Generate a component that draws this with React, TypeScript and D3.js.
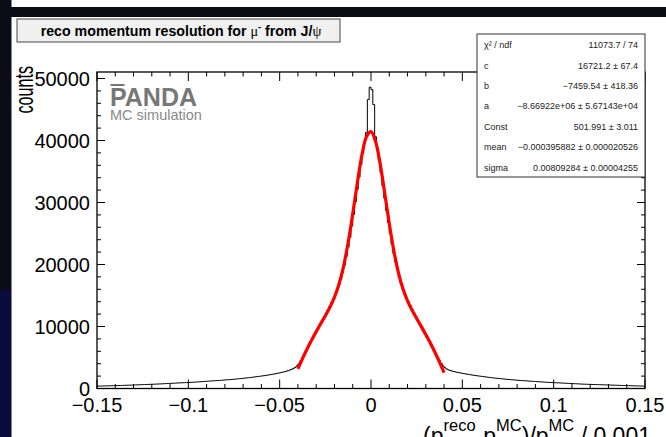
import React from 'react';
import * as d3 from 'd3';

const W = 666;
const H = 437;

// bin contents, bin width 0.001
// left half, listed from the centre outwards (-0.0005, -0.0015, ...)
const countsNegFromCenter = [
  48600, 46600, 41300, 39600, 38000, 36100, 34100, 32100, 30100, 28100,
  26200, 24400, 22800, 21300, 19900, 18700, 17600, 16700, 15900, 15200,
  14500, 13900, 13300, 12700, 12150, 11600, 11050, 10500, 10000, 9450,
  8900, 8350, 7800, 7200, 6600, 6000, 5450, 4950, 4450, 4000,
  3650, 3400, 3220, 3080, 2960, 2860, 2770, 2690, 2620, 2550,
  2490, 2430, 2370, 2310, 2260, 2210, 2160, 2110, 2070, 2030,
  1990, 1950, 1910, 1870, 1830, 1790, 1750, 1720, 1690, 1660,
  1630, 1600, 1570, 1540, 1510, 1480, 1450, 1430, 1410, 1390,
  1360, 1330, 1310, 1290, 1270, 1250, 1230, 1210, 1190, 1170,
  1150, 1130, 1110, 1090, 1070, 1050, 1030, 1010, 995, 980,
  965, 950, 935, 920, 905, 890, 875, 860, 845, 830,
  815, 800, 785, 770, 755, 740, 725, 712, 700, 688,
  676, 664, 652, 640, 628, 616, 604, 592, 580, 568,
  556, 546, 536, 526, 516, 506, 496, 486, 476, 466,
  458, 450, 442, 434, 426, 418, 410, 402, 394, 386,
];
// right half, from 0.0005 outwards
const countsPos = [
  48200, 45800, 40600, 38600, 36800, 34800, 32700, 30700, 28700, 26800,
  25000, 23300, 21800, 20400, 19100, 17900, 16900, 16000, 15300, 14600,
  14000, 13400, 12800, 12200, 11600, 11000, 10400, 9850, 9300, 8800,
  8250, 7700, 7150, 6600, 6050, 5500, 5000, 4500, 4050, 3650,
  3350, 3150, 3000, 2900, 2810, 2730, 2660, 2600, 2540, 2480,
  2420, 2370, 2320, 2270, 2220, 2170, 2120, 2080, 2040, 2000,
  1960, 1920, 1880, 1840, 1800, 1760, 1720, 1690, 1660, 1630,
  1600, 1570, 1540, 1510, 1480, 1450, 1420, 1400, 1380, 1360,
  1330, 1300, 1280, 1260, 1240, 1220, 1200, 1180, 1160, 1140,
  1120, 1100, 1080, 1060, 1040, 1020, 1000, 985, 970, 955,
  940, 925, 910, 895, 880, 865, 850, 835, 820, 805,
  790, 775, 760, 745, 730, 715, 700, 690, 680, 670,
  660, 650, 640, 630, 620, 610, 600, 590, 580, 570,
  560, 550, 540, 530, 520, 510, 500, 490, 480, 470,
  462, 454, 446, 438, 430, 422, 414, 406, 398, 390,
];
const binWidth = 0.001;
const xMin = -0.15;

// fit curve samples
const fitX = [
  -0.04, -0.0375, -0.035, -0.0325, -0.03, -0.0275, -0.025, -0.0225, -0.02,
  -0.0175, -0.015, -0.0125, -0.01, -0.0075, -0.005, -0.0025, 0,
  0.0025, 0.005, 0.0075, 0.01, 0.0125, 0.015, 0.0175, 0.02,
  0.0225, 0.025, 0.0275, 0.03, 0.0325, 0.035, 0.0375, 0.04,
];
const fitY = [
  3149, 4811, 6365, 7816, 9174, 10461, 11735, 13095, 14719,
  16852, 19745, 23555, 28181, 33118, 37594, 40612, 41437,
  39855, 36273, 31524, 26618, 22221, 18707, 16076, 14134,
  12616, 11296, 10025, 8716, 7328, 5842, 4250, 2553,
];

const xTickValues = [-0.15, -0.1, -0.05, 0, 0.05, 0.1, 0.15];
const xTickLabels = ['\u22120.15', '\u22120.1', '\u22120.05', '0', '0.05', '0.1', '0.15'];
const yTickValues = [0, 10000, 20000, 30000, 40000, 50000];
const yTickLabels = ['0', '10000', '20000', '30000', '40000', '50000'];

const statNames = ['\u03c7\u00b2 / ndf', 'c', 'b', 'a', 'Const', 'mean', 'sigma'];
const statValues = [
  '11073.7 / 74',
  '16721.2 \u00b1 67.4',
  '\u22127459.54 \u00b1 418.36',
  '\u22128.66922e+06 \u00b1 5.67143e+04',
  '501.991 \u00b1 3.011',
  '\u22120.000395882 \u00b1 0.000020526',
  '0.00809284 \u00b1 0.00004255',
];

const SANS = '"Liberation Sans", Arial, Helvetica, sans-serif';
const SERIF = '"Liberation Serif", "DejaVu Serif", serif';

export default function App() {
  const fx0 = 97, fx1 = 645, fyTop = 72, fyBot = 388.5;
  const x = d3.scaleLinear().domain([-0.15, 0.15]).range([fx0, fx1]);
  const y = d3.scaleLinear().domain([0, 51050]).range([fyBot, fyTop]);

  const counts = countsNegFromCenter.slice().reverse().concat(countsPos);
  const pts: [number, number][] = counts.map((c, i) => [xMin + i * binWidth, c]);
  pts.push([xMin + counts.length * binWidth, counts[counts.length - 1]]);
  const histPath = d3.line<[number, number]>()
    .x(d => x(d[0]))
    .y(d => y(d[1]))
    .curve(d3.curveStepAfter)(pts) || '';

  const fitPath = d3.line<number>()
    .x((d, i) => x(fitX[i]))
    .y(d => y(d))
    .curve(d3.curveCatmullRom)(fitY) || '';

  const xMinor = x.ticks(30);
  const yMinor = d3.range(0, 51000, 2000);

  const boxX = 477, boxY = 34, boxW = 168, boxH = 143;

  return (
    <div style={{ position: 'absolute', left: 0, top: 0 }}>
      <svg width={W} height={H} style={{ display: 'block' }}>
        <rect x={0} y={0} width={W} height={H} fill="#fff" />
        <rect x={0} y={7} width={W} height={10} fill="#0c0c14" />
        <rect x={0} y={0} width={11.5} height={290} fill="#0c0c16" />
        <rect x={0} y={290} width={11.5} height={H - 290} fill="#0a0a3c" />

        {/* histogram + fit */}
        <path d={histPath} fill="none" stroke="#000" strokeWidth={1} />
        <path d={fitPath} fill="none" stroke="#ff0000" strokeWidth={3.2} />

        {/* frame */}
        <rect x={fx0} y={fyTop} width={fx1 - fx0} height={fyBot - fyTop} fill="none" stroke="#000" strokeWidth={1.3} />

        {/* x ticks */}
        {xMinor.map((t, i) => {
          const major = xTickValues.some(v => Math.abs(v - t) < 1e-9);
          const len = major ? 9 : 4.5;
          return (
            <g key={'xt' + i} stroke="#000" strokeWidth={1}>
              <line x1={x(t)} x2={x(t)} y1={fyBot} y2={fyBot - len} />
              <line x1={x(t)} x2={x(t)} y1={fyTop} y2={fyTop + len} />
            </g>
          );
        })}
        {/* y ticks */}
        {yMinor.map((t, i) => {
          const major = t % 10000 === 0;
          const len = major ? 8 : 4;
          return (
            <g key={'yt' + i} stroke="#000" strokeWidth={1}>
              <line x1={fx0} x2={fx0 + len} y1={y(t)} y2={y(t)} />
              <line x1={fx1} x2={fx1 - len} y1={y(t)} y2={y(t)} />
            </g>
          );
        })}

        {/* tick labels */}
        {xTickValues.map((t, i) => (
          <text key={'xl' + i} x={x(t)} y={412} fontSize={20} fontFamily={SANS} textAnchor="middle" fill="#000">
            {xTickLabels[i]}
          </text>
        ))}
        {yTickValues.map((t, i) => (
          <text key={'yl' + i} x={90} y={y(t)} dy="0.36em" fontSize={20} fontFamily={SANS} textAnchor="end" fill="#000">
            {yTickLabels[i]}
          </text>
        ))}

        {/* axis titles */}
        <text transform={`translate(33,66) rotate(-90) scale(0.62,1)`} fontSize={26} fontFamily={SANS} textAnchor="end" fill="#000">
          counts
        </text>
        <text x={651} y={444} fontSize={23} fontFamily={SANS} textAnchor="end" fill="#000">
          (p<tspan fontSize={16.5} dy={-13}>reco</tspan>
          <tspan dy={13}>-p</tspan>
          <tspan fontSize={16.5} dy={-13}>MC</tspan>
          <tspan dy={13}>)/p</tspan>
          <tspan fontSize={16.5} dy={-13}>MC</tspan>
          <tspan dy={13}> / 0.001</tspan>
        </text>

        {/* PANDA label */}
        <text x={110} y={106} fontSize={25} fontWeight="bold" fontFamily={SANS} fill="#777">PANDA</text>
        <line x1={110.5} x2={124.5} y1={85} y2={85} stroke="#777" strokeWidth={2} />
        <text x={110} y={120} fontSize={14.5} fontFamily={SANS} fill="#888">MC simulation</text>

        {/* stats box */}
        <rect x={boxX} y={boxY} width={boxW} height={boxH} fill="#fff" stroke="#333" strokeWidth={1} />
        {statNames.map((n, i) => (
          <g key={'st' + i} fontFamily={SANS} fontSize={9} fill="#222">
            <text x={boxX + 7} y={boxY + 11 + i * 20.4} dy="0.35em">{n}</text>
            <text x={boxX + boxW - 7} y={boxY + 11 + i * 20.4} dy="0.35em" textAnchor="end">{statValues[i]}</text>
          </g>
        ))}

        {/* title box */}
        <rect x={17} y={19} width={323} height={23} fill="#f0f0f0" stroke="#444" strokeWidth={1} />
        <text x={181} y={36} fontSize={14.2} fontWeight="bold" fontFamily={SANS} textAnchor="middle" fill="#000">
          reco momentum resolution for{'  '}
          <tspan fontFamily={SERIF} fontWeight="normal">{'\u03bc'}</tspan>
          <tspan fontSize={9.5} dy={-6}>-</tspan>
          <tspan dy={6}> from J/</tspan>
          <tspan fontFamily={SERIF} fontWeight="normal">{'\u03c8'}</tspan>
        </text>
      </svg>
    </div>
  );
}
